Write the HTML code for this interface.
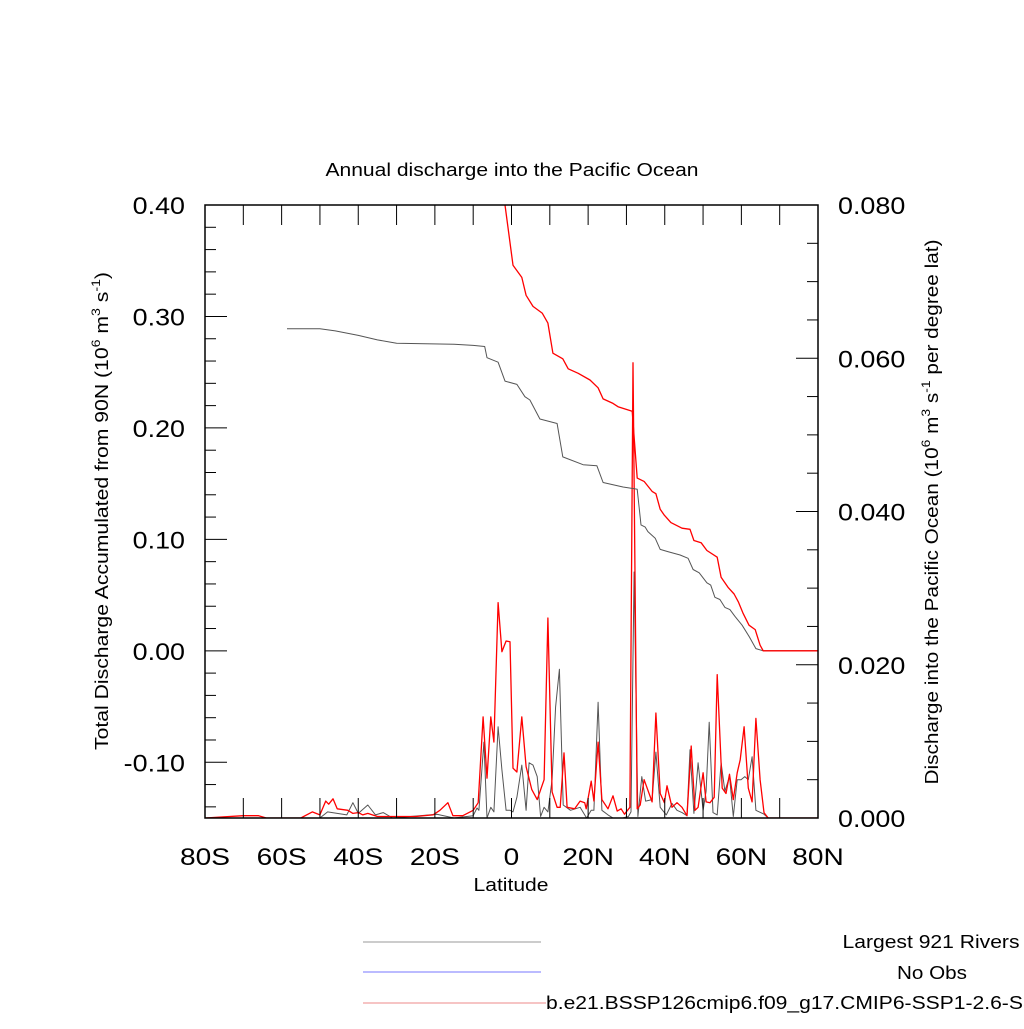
<!DOCTYPE html>
<html><head><meta charset="utf-8"><style>
html,body{margin:0;padding:0;background:#fff;}
svg text{font-family:"Liberation Sans",sans-serif;}
</style></head><body>
<svg id="chart" width="1024" height="1024" viewBox="0 0 1024 1024" xmlns="http://www.w3.org/2000/svg">
<text class="s18" x="512" y="176" font-size="18" text-anchor="middle" textLength="373" lengthAdjust="spacingAndGlyphs">Annual discharge into the Pacific Ocean</text>
<g id="plot"></g>
<text x="511" y="891" font-size="18" text-anchor="middle" textLength="75" lengthAdjust="spacingAndGlyphs">Latitude</text>
<text transform="translate(108,511) rotate(-90)" font-size="18" text-anchor="middle" textLength="478" lengthAdjust="spacingAndGlyphs">Total Discharge Accumulated from 90N (10<tspan font-size="12" dy="-8">6</tspan><tspan dy="8"> m</tspan><tspan font-size="12" dy="-8">3</tspan><tspan dy="8"> s</tspan><tspan font-size="12" dy="-8">-1</tspan><tspan dy="8">)</tspan></text>
<text transform="translate(938,512) rotate(-90)" font-size="18" text-anchor="middle" textLength="545" lengthAdjust="spacingAndGlyphs">Discharge into the Pacific Ocean (10<tspan font-size="12" dy="-8">6</tspan><tspan dy="8"> m</tspan><tspan font-size="12" dy="-8">3</tspan><tspan dy="8"> s</tspan><tspan font-size="12" dy="-8">-1</tspan><tspan dy="8"> per degree lat)</tspan></text>
<g>
<line x1="363" y1="942" x2="541" y2="942" stroke="#999" stroke-width="1"/>
<text x="931" y="948" font-size="18" text-anchor="middle" textLength="177" lengthAdjust="spacingAndGlyphs">Largest 921 Rivers</text>
<line x1="363" y1="972" x2="541" y2="972" stroke="#7777ff" stroke-width="1"/>
<text x="932" y="979" font-size="18" text-anchor="middle" textLength="70" lengthAdjust="spacingAndGlyphs">No Obs</text>
<line x1="363" y1="1003" x2="546" y2="1003" stroke="#e88" stroke-width="1"/>
<text x="546" y="1009" font-size="18" textLength="505" lengthAdjust="spacingAndGlyphs">b.e21.BSSP126cmip6.f09_g17.CMIP6-SSP1-2.6-SSP</text>
</g>
</svg>
<script>
// x categories / tick labels
const xTickVals=[-80,-60,-40,-20,0,20,40,60,80];
const xTickLabels=["80S","60S","40S","20S","0","20N","40N","60N","80N"];
const leftTickVals=[0.40,0.30,0.20,0.10,0.00,-0.10];
const leftTickLabels=["0.40","0.30","0.20","0.10","0.00","-0.10"];
const rightTickVals=[0.000,0.020,0.040,0.060,0.080];
const rightTickLabels=["0.000","0.020","0.040","0.060","0.080"];
// accumulated (left axis)
const accRedLat=[-1.7,0.4,2.7,3.8,5.6,8,9.5,10.8,13.4,14.8,17.4,20.5,22.6,23.9,26.5,27.8,31.5,32.8,34.6,36.7,37.7,38.8,39.8,41.6,44.5,46.6,47.6,49.5,51,53.7,54.7,56.5,58.1,59.2,60.4,62,63.6,64.9,65.7,80];
const accRedVal=[0.40,0.346,0.335,0.319,0.309,0.303,0.294,0.267,0.262,0.253,0.249,0.243,0.236,0.226,0.222,0.219,0.215,0.155,0.152,0.143,0.141,0.127,0.122,0.115,0.110,0.109,0.099,0.097,0.090,0.084,0.066,0.057,0.051,0.044,0.034,0.023,0.019,0.005,0,0];
const accGrayLat=[-58.6,-50,-46,-40,-35,-30,-15,-10,-7,-6.4,-3.5,-1.7,1.4,3.5,4.8,7.4,11.9,13.4,18.7,22.3,23.9,29.1,32.8,33.8,34.9,35.6,37.5,38.8,40.8,44,46.1,47.4,49,51,52,53.1,54.4,55.7,57,58.3,60.2,62,63.8,65.7,80];
const accGrayVal=[0.289,0.289,0.287,0.283,0.279,0.276,0.275,0.274,0.273,0.263,0.259,0.242,0.239,0.228,0.225,0.208,0.204,0.174,0.167,0.166,0.151,0.147,0.145,0.113,0.111,0.107,0.101,0.091,0.089,0.086,0.083,0.073,0.070,0.061,0.059,0.048,0.046,0.039,0.037,0.031,0.023,0.013,0.002,0,0];
// per-degree discharge (right axis)
const perRedLat=[-80,-70,-66,-64,-55,-52,-50,-48.5,-47.7,-46.6,-45.5,-42.7,-41.4,-40,-38.8,-37.5,-35,-25,-20.5,-18.7,-16.6,-15.3,-12.7,-10,-8.7,-7.4,-6.4,-5.4,-4.6,-3.5,-2.5,-1.4,-0.4,0.4,1.4,2.7,3.8,5.3,6.7,8.5,9.5,10.6,11.9,12.7,13.7,14.5,16.5,17.9,19.1,19.5,20.8,21.5,22.6,23.6,25.2,26.5,27.6,28.6,29.5,30.9,31.7,32.8,33.6,34.6,36.7,37.7,38.8,39.9,40.6,41.9,43.2,44.5,45.8,46.9,47.9,48.7,50,50.8,51.8,52.9,53.7,55,56,56.9,57.9,58.9,59.7,60.7,61.8,62.8,63.8,64.9,65.9,67,80];
const perRedVal=[0,0.0003,0.0003,0,0,0.0008,0.0004,0.0022,0.0018,0.0025,0.0012,0.001,0.0006,0.0007,0.0004,0.0006,0.0002,0.0002,0.0004,0.001,0.002,0.0003,0.0003,0.001,0.002,0.0132,0.0052,0.0132,0.0099,0.0281,0.0217,0.0231,0.0230,0.0065,0.006,0.0132,0.0067,0.0037,0.0024,0.005,0.0261,0.0034,0.0014,0.0014,0.0085,0.0014,0.0012,0.0022,0.002,0.0012,0.0048,0.0022,0.0099,0.0024,0.0012,0.0029,0.0009,0.0012,0.0005,0.0014,0.0594,0.0012,0.0017,0.005,0.0021,0.0137,0.0032,0.002,0.0042,0.0014,0.002,0.0014,0.0003,0.0094,0.001,0.0014,0.0059,0.0021,0.002,0.0027,0.0187,0.0039,0.0032,0.0057,0.0024,0.0059,0.0076,0.0119,0.0039,0.0021,0.013,0.005,0.0007,0,0];
const perGrayLat=[-60,-50,-48,-43,-41.4,-40,-37.5,-35.5,-33.5,-31,-24,-19.5,-15,-10,-9,-8.5,-7.2,-6.4,-5.4,-4.6,-3.5,-2.5,-1.4,-0.4,0.4,1.4,2.7,3.8,4.6,5.6,6.7,7.6,8.5,9.5,10.6,11.5,12.5,13.5,15.4,17.9,19.6,20.8,21.5,22.6,23.6,25.2,26.5,29,30.5,31.2,32,33,34,35,36.7,37.7,38.8,40.4,41.9,43.2,44.5,45.8,46.6,47.6,48.7,50,50.8,51.6,52.6,53.7,54.7,55.7,56.9,57.9,58.9,59.9,60.9,61.8,62.8,63.8,65.9,67,80];
const perGrayVal=[0,0,0.0008,0.0004,0.002,0.0006,0.0017,0.0004,0.0007,0,0.0003,0.0005,0,0.0003,0.0013,0.001,0.0099,0,0.0014,0.0008,0.0119,0.0063,0.001,0.001,0.0008,0.0027,0.0069,0.001,0.0072,0.0069,0.0054,0.0002,0.0014,0.0008,0.005,0.0145,0.0194,0.0017,0.001,0.0014,0,0.001,0.001,0.0151,0.001,0.0004,0,0,0.0002,0.0008,0.0321,0.0002,0.0054,0.0022,0.0024,0.0086,0.0014,0.0004,0.0019,0.001,0.0007,0.0003,0.0089,0.0006,0.0072,0.001,0.0035,0.0125,0.0007,0.0004,0.0072,0.0035,0.0054,0.0002,0.005,0.005,0.0054,0.005,0.008,0.001,0.0005,0,0];

const L=205,R=818,T=205,B=818;
const xS=v=>L+(v+80)/160*(R-L);
const yL=v=>B-(v+0.15)/0.55*(B-T);
const yR=v=>B-v/0.08*(B-T);
const NS="http://www.w3.org/2000/svg";
const g=document.getElementById('plot');
function mk(tag,attrs,parent){const e=document.createElementNS(NS,tag);for(const k in attrs)e.setAttribute(k,attrs[k]);(parent||g).appendChild(e);return e;}
const clip=mk('clipPath',{id:'pc'});mk('rect',{x:L,y:T,width:R-L,height:B-T},clip);
const sg=mk('g',{'clip-path':'url(#pc)'});
function seriesC(lats,vals,yf,color,name,w){
  const pts=lats.map((la,i)=>xS(la).toFixed(1)+','+yf(vals[i]).toFixed(1)).join(' ');
  const p=mk('polyline',{points:pts,fill:'none',stroke:color,'stroke-width':w,'stroke-linejoin':'round'},sg);
  
  
}
seriesC(perGrayLat,perGrayVal,yR,'#555','per-degree-rivers-line',1);
seriesC(perRedLat,perRedVal,yR,'#ff0000','per-degree-model-line',1.3);
seriesC(accGrayLat,accGrayVal,yL,'#555','accumulated-rivers-line',1);
seriesC(accRedLat,accRedVal,yL,'#ff0000','accumulated-model-line',1.3);

const fr=mk('rect',{x:L,y:T,width:R-L,height:B-T,fill:'none',stroke:'#000','stroke-width':1.5});


for(let la=-80;la<=80;la+=10){
  const x=xS(la);
  mk('line',{x1:x,y1:B,x2:x,y2:B-20,stroke:'#000','stroke-width':1});
  mk('line',{x1:x,y1:T,x2:x,y2:T+20,stroke:'#000','stroke-width':1});
}
function stretch(t,k){const w=t.getComputedTextLength();t.setAttribute('textLength',(w*k).toFixed(1));t.setAttribute('lengthAdjust','spacingAndGlyphs');}
xTickVals.forEach((v,i)=>{
  const t=mk('text',{x:xS(v),y:865,'font-size':24,'text-anchor':'middle'});
  t.textContent=xTickLabels[i];
  
  
  stretch(t,1.17);
});
for(let k=0;k<=27;k++){
  const v=0.40-k*0.02; if(v<-0.151)break;
  const y=yL(v); const major=(k%5===0);
  mk('line',{x1:L,y1:y,x2:L+(major?22:11),y2:y,stroke:'#000','stroke-width':1});
}
leftTickVals.forEach((v,i)=>{
  const t=mk('text',{x:185,y:yL(v)+9,'font-size':24,'text-anchor':'end'});
  t.textContent=leftTickLabels[i];
  
  
  stretch(t,1.12);
});
for(let k=0;k<=16;k++){
  const v=k*0.005; const y=yR(v); const major=(k%4===0);
  mk('line',{x1:R,y1:y,x2:R-(major?22:11),y2:y,stroke:'#000','stroke-width':1});
}
rightTickVals.forEach((v,i)=>{
  const t=mk('text',{x:838,y:yR(v)+9,'font-size':24,'text-anchor':'start'});
  t.textContent=rightTickLabels[i];
  
  
  stretch(t,1.12);
});
</script>
</body></html>
